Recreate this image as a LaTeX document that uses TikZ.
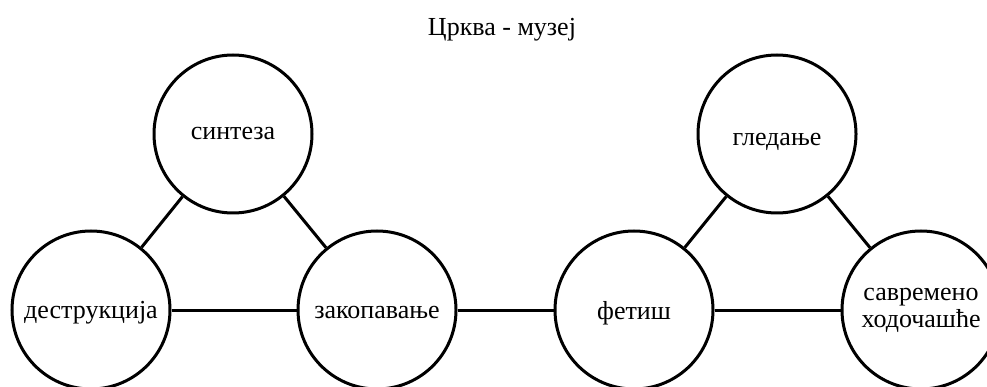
\documentclass[tikz,border=0pt]{standalone}
\usepackage{fontspec}
\setmainfont{Liberation Serif}
\newcommand{\lowertext}[2]{\raisebox{-#1}[\height][\depth]{#2}}
\begin{document}
\begin{tikzpicture}[x=1pt,y=-1pt,
  circ/.style={circle,draw=black,line width=3pt,minimum size=158pt,inner sep=0pt,align=center,font=\fontsize{26}{27}\selectfont},
  conn/.style={draw=black,line width=3pt},
  titletext/.style={font=\fontsize{26}{28}\selectfont}]
\useasboundingbox[fill=white] (0,0) rectangle (987,387);
\node[titletext] (title) at (502,30) {Црква - музеј};
\node[circ] (sint) at (233,134) {синтеза};
\node[circ] (dest) at (91,310) {\lowertext{3pt}{деструкција}};
\node[circ] (zak) at (377,310) {\lowertext{3pt}{закопавање}};
\node[circ] (fet) at (634,310) {\lowertext{3pt}{фетиш}};
\node[circ] (gled) at (777,134) {\lowertext{8pt}{гледање}};
\node[circ] (sav) at (921,310) {савремено\\ходочашће};
\draw[conn] (dest) -- (sint);
\draw[conn] (sint) -- (zak);
\draw[conn] (dest) -- (zak);
\draw[conn] (zak) -- (fet);
\draw[conn] (fet) -- (gled);
\draw[conn] (gled) -- (sav);
\draw[conn] (fet) -- (sav);
\end{tikzpicture}
\end{document}
